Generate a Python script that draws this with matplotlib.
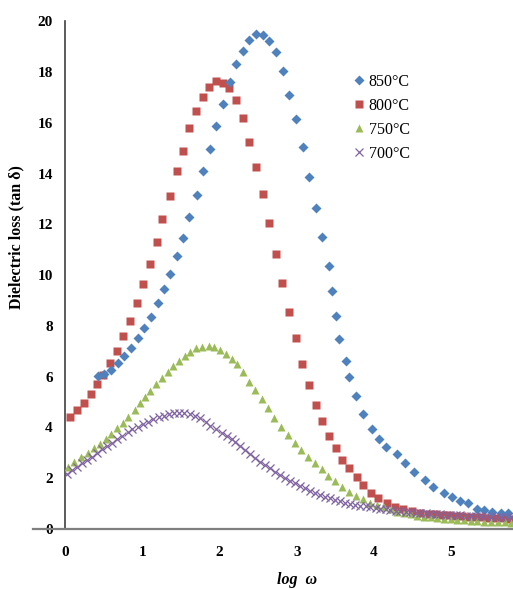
import matplotlib
matplotlib.use('Agg')
import matplotlib.pyplot as plt

# log(omega) and tan(delta) for each sintering temperature
x850 = [0.42, 0.50, 0.59, 0.68, 0.76, 0.85, 0.94, 1.02, 1.11, 1.20, 1.28, 1.36, 1.45, 1.52, 1.61,
        1.71, 1.78, 1.87, 1.96, 2.04, 2.13, 2.21, 2.30, 2.38, 2.47, 2.56, 2.64, 2.73, 2.82, 2.90,
        2.99, 3.08, 3.16, 3.25, 3.33, 3.42, 3.46, 3.51, 3.55, 3.64, 3.68, 3.77, 3.86, 3.98, 4.07,
        4.16, 4.30, 4.40, 4.52, 4.66, 4.77, 4.90, 5.01, 5.12, 5.22, 5.34, 5.43, 5.53, 5.64, 5.73]
y850 = [6.02, 6.10, 6.26, 6.54, 6.81, 7.13, 7.52, 7.91, 8.35, 8.90, 9.45, 10.04, 10.75, 11.46, 12.28,
        13.15, 14.09, 14.96, 15.87, 16.73, 17.60, 18.31, 18.82, 19.25, 19.49, 19.45, 19.21, 18.78, 18.03, 17.09,
        16.14, 15.04, 13.86, 12.64, 11.50, 10.35, 9.37, 8.39, 7.48, 6.61, 5.98, 5.24, 4.53, 3.94, 3.54,
        3.23, 2.95, 2.60, 2.24, 1.93, 1.65, 1.42, 1.26, 1.10, 1.02, 0.79, 0.75, 0.67, 0.63, 0.63]

x800 = [0.06, 0.15, 0.24, 0.33, 0.41, 0.49, 0.58, 0.67, 0.75, 0.84, 0.93, 1.01, 1.10, 1.19, 1.26,
        1.36, 1.45, 1.52, 1.61, 1.70, 1.78, 1.86, 1.96, 2.04, 2.12, 2.21, 2.30, 2.38, 2.47, 2.56,
        2.64, 2.73, 2.81, 2.90, 2.99, 3.07, 3.16, 3.25, 3.33, 3.42, 3.51, 3.59, 3.68, 3.78, 3.86,
        3.96, 4.05, 4.17, 4.27, 4.38, 4.49, 4.60, 4.70, 4.79, 4.88, 4.96, 5.05, 5.14, 5.23, 5.31,
        5.40, 5.49, 5.57, 5.66, 5.75]
y800 = [4.41, 4.69, 4.96, 5.31, 5.71, 6.06, 6.54, 7.01, 7.60, 8.19, 8.90, 9.65, 10.43, 11.30, 12.20,
        13.11, 14.09, 14.88, 15.79, 16.46, 17.01, 17.40, 17.64, 17.56, 17.36, 16.89, 16.18, 15.24, 14.25, 13.19,
        12.05, 10.83, 9.69, 8.54, 7.52, 6.50, 5.67, 4.88, 4.25, 3.66, 3.19, 2.72, 2.40, 2.05, 1.73,
        1.42, 1.22, 1.02, 0.87, 0.79, 0.71, 0.63, 0.59, 0.57, 0.55, 0.54, 0.52, 0.50, 0.48, 0.47,
        0.45, 0.44, 0.43, 0.42, 0.41]

x750 = [0.04, 0.12, 0.21, 0.30, 0.37, 0.45, 0.53, 0.60, 0.67, 0.75, 0.82, 0.90, 0.97, 1.04, 1.10,
        1.18, 1.26, 1.33, 1.40, 1.48, 1.55, 1.62, 1.70, 1.77, 1.86, 1.93, 2.00, 2.08, 2.16, 2.23,
        2.30, 2.38, 2.46, 2.55, 2.63, 2.71, 2.80, 2.89, 2.98, 3.06, 3.15, 3.24, 3.32, 3.41, 3.50,
        3.59, 3.68, 3.77, 3.86, 3.95, 4.04, 4.13, 4.22, 4.30, 4.39, 4.48, 4.56, 4.65, 4.74, 4.82,
        4.91, 5.00, 5.08, 5.17, 5.26, 5.34, 5.43, 5.52, 5.60, 5.69, 5.78]
y750 = [2.45, 2.65, 2.85, 3.00, 3.18, 3.35, 3.54, 3.74, 3.96, 4.19, 4.42, 4.69, 4.95, 5.21, 5.43,
        5.70, 5.93, 6.19, 6.42, 6.63, 6.82, 6.98, 7.11, 7.18, 7.20, 7.15, 7.05, 6.89, 6.69, 6.50,
        6.19, 5.80, 5.47, 5.11, 4.75, 4.38, 4.03, 3.70, 3.40, 3.11, 2.82, 2.59, 2.35, 2.09, 1.89,
        1.67, 1.47, 1.30, 1.17, 1.04, 0.94, 0.85, 0.78, 0.68, 0.62, 0.57, 0.52, 0.48, 0.45, 0.42,
        0.40, 0.38, 0.36, 0.34, 0.32, 0.30, 0.29, 0.28, 0.27, 0.26, 0.25]

x700 = [0.02, 0.09, 0.15, 0.22, 0.28, 0.35, 0.41, 0.48, 0.54, 0.61, 0.67, 0.74, 0.81, 0.87, 0.94,
        1.01, 1.07, 1.14, 1.21, 1.28, 1.35, 1.41, 1.48, 1.54, 1.62, 1.68, 1.74, 1.82, 1.88, 1.95,
        2.03, 2.09, 2.16, 2.20, 2.27, 2.33, 2.39, 2.46, 2.52, 2.59, 2.65, 2.72, 2.78, 2.85, 2.91,
        2.98, 3.04, 3.11, 3.17, 3.24, 3.30, 3.37, 3.43, 3.50, 3.56, 3.63, 3.69, 3.76, 3.82, 3.89,
        3.95, 4.02, 4.08, 4.15, 4.21, 4.28, 4.34, 4.41, 4.47, 4.54, 4.60, 4.67, 4.73, 4.80, 4.86,
        4.93, 4.99, 5.06, 5.12, 5.19, 5.25, 5.32, 5.38, 5.45, 5.51, 5.58, 5.64, 5.71, 5.77]
y700 = [2.17, 2.32, 2.45, 2.59, 2.72, 2.85, 2.98, 3.14, 3.27, 3.40, 3.53, 3.66, 3.81, 3.93, 4.03,
        4.13, 4.22, 4.33, 4.40, 4.45, 4.52, 4.55, 4.58, 4.55, 4.53, 4.45, 4.36, 4.22, 4.07, 3.93,
        3.79, 3.66, 3.53, 3.44, 3.27, 3.11, 2.95, 2.81, 2.65, 2.52, 2.39, 2.26, 2.13, 2.02, 1.90,
        1.80, 1.69, 1.60, 1.51, 1.43, 1.35, 1.27, 1.21, 1.14, 1.09, 1.04, 1.00, 0.96, 0.92, 0.89,
        0.86, 0.83, 0.80, 0.77, 0.75, 0.72, 0.70, 0.68, 0.66, 0.64, 0.62, 0.61, 0.59, 0.58, 0.57,
        0.56, 0.55, 0.54, 0.53, 0.52, 0.51, 0.50, 0.50, 0.49, 0.48, 0.48, 0.47, 0.47, 0.46]

serif = 'Liberation Serif'

fig = plt.figure(figsize=(5.13, 5.89), dpi=100)
ax = fig.add_axes([0.127, 0.102, 0.873, 0.862])

ax.plot(x800, y800, ls='none', marker='s', ms=6.4, mec='none', color='#C0504D', label='800°C', zorder=2)
ax.plot(x850, y850, ls='none', marker='D', ms=4.6, mec='none', color='#4F81BD', label='850°C', zorder=3)
ax.plot(x750, y750, ls='none', marker='^', ms=5.6, mec='none', color='#9BBB59', label='750°C', zorder=4)
ax.plot(x700, y700, ls='none', marker='x', ms=5.8, mew=0.9, color='#8064A2', label='700°C', zorder=5)

ax.set_xlim(0, 5.8)
ax.set_ylim(0, 20)
ax.set_xticks([0, 1, 2, 3, 4, 5])
ax.set_yticks(range(0, 21, 2))

for s in ['top', 'right']:
    ax.spines[s].set_visible(False)
ax.spines['left'].set_color('#404040')
ax.spines['left'].set_linewidth(1.2)
ax.spines['bottom'].set_color('#7f7f7f')
ax.spines['bottom'].set_linewidth(1.6)
ax.spines['bottom'].set_bounds(-0.42, 5.8)

ax.tick_params(axis='both', length=0)
ax.tick_params(axis='y', pad=9)
ax.tick_params(axis='x', pad=12)
for lab in ax.get_xticklabels() + ax.get_yticklabels():
    lab.set_fontfamily(serif)
    lab.set_fontweight('bold')
    lab.set_fontsize(11)

ax.set_ylabel('Dielectric loss (tan δ)', fontfamily=serif, fontweight='bold', fontsize=11.5)
ax.yaxis.set_label_coords(-0.09, 0.575)
ax.set_xlabel('log  ω', fontfamily=serif, fontweight='bold', style='italic', fontsize=11.5)
ax.xaxis.set_label_coords(0.517, -0.084)

handles, labels = ax.get_legend_handles_labels()
order = [1, 0, 2, 3]
ax.legend([handles[i] for i in order], [labels[i] for i in order],
          loc='center left', bbox_to_anchor=(0.642, 0.81), frameon=False,
          prop={'family': serif, 'size': 11.5}, handlelength=0.8, handletextpad=0.2,
          labelspacing=0.5, borderpad=0, borderaxespad=0)

fig.savefig('out.png', dpi=100)
